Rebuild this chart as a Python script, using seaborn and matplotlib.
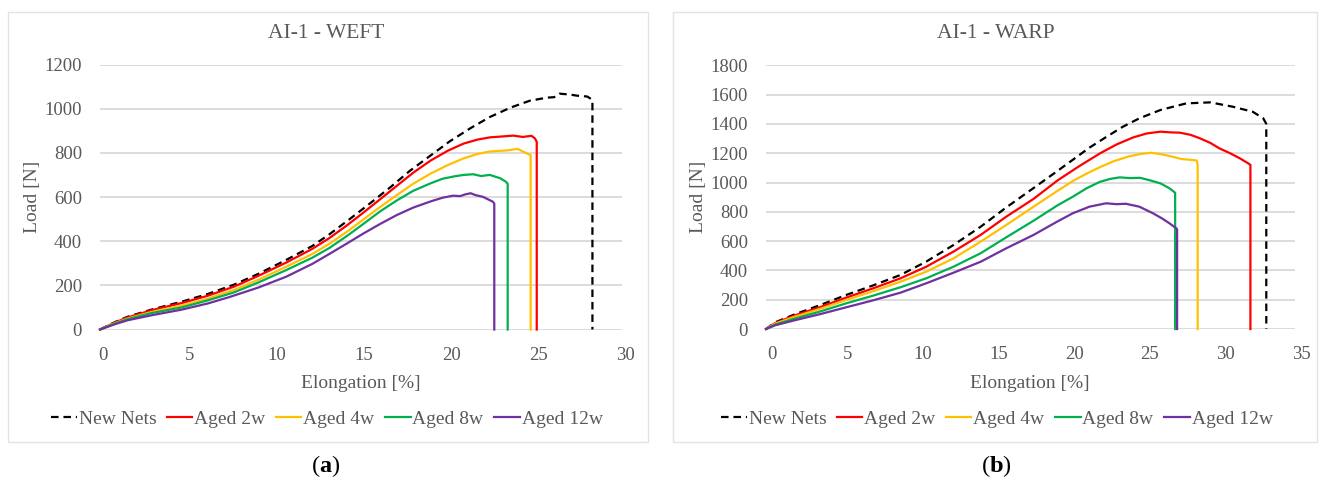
import matplotlib
matplotlib.use("Agg")
import matplotlib.pyplot as plt
from matplotlib.lines import Line2D
from matplotlib.patches import Rectangle
from matplotlib.transforms import ScaledTranslation
import pandas as pd
import seaborn as sns

# ---- tensile test curves: AI-1 net, weft direction ----
weft_new_x = [0, 0.9, 1.6, 3.0, 4.7, 6.2, 7.7, 9.1, 10.7, 12.2, 13.2, 14.4, 15.5, 16.7, 17.8, 19.0, 20.1,
              21.3, 22.4, 23.6, 24.7, 25.7, 26.1, 26.4, 27.0, 27.4, 28.0, 28.3, 28.3]
weft_new_y = [0, 35, 58, 91, 126, 161, 203, 252, 315, 378, 432, 503, 570, 645, 718, 788, 852,
              912, 962, 1005, 1036, 1050, 1052, 1068, 1064, 1059, 1055, 1040, 0]

weft_2w_x = [0, 0.9, 1.6, 3.0, 4.7, 6.2, 7.7, 9.1, 10.7, 12.2, 13.2, 14.2, 15.1, 16.1, 17.05, 18.0,
             19.0, 20.0, 20.9, 21.7, 22.4, 23.1, 23.75, 24.3, 24.8, 25.0, 25.1, 25.1]
weft_2w_y = [0, 33, 55, 88, 120, 153, 194, 243, 303, 365, 415, 472, 527, 590, 650, 710,
             765, 810, 842, 860, 870, 874, 878, 872, 877, 865, 850, 0]

weft_4w_x = [0, 0.9, 1.6, 3.0, 4.7, 6.2, 7.7, 9.1, 10.7, 12.2, 13.2, 14.2, 15.1, 16.1, 17.05, 18.0,
             19.0, 20.0, 20.9, 21.7, 22.4, 23.4, 24.0, 24.3, 24.6, 24.75, 24.75]
weft_4w_y = [0, 30, 50, 80, 108, 140, 179, 225, 284, 342, 389, 443, 496, 555, 608, 660,
             706, 745, 775, 795, 806, 811, 818, 806, 795, 790, 0]

weft_8w_x = [0, 0.9, 1.6, 3.0, 4.7, 6.2, 7.7, 9.1, 10.7, 12.2, 13.2, 14.2, 15.1, 16.1, 17.05, 18.0,
             19.0, 19.7, 20.4, 20.9, 21.45, 21.9, 22.4, 23.0, 23.33, 23.43, 23.43]
weft_8w_y = [0, 28, 47, 75, 100, 132, 168, 213, 269, 325, 370, 424, 476, 535, 584, 628,
             662, 683, 694, 700, 703, 695, 700, 685, 669, 660, 0]

weft_12w_x = [0, 0.9, 1.6, 3.0, 4.7, 6.2, 7.4, 9.1, 10.7, 12.2, 13.2, 14.2, 15.1, 16.1, 17.05, 18.0,
              19.0, 19.7, 20.3, 20.7, 21.0, 21.3, 21.6, 22.0, 22.57, 22.66, 22.66]
weft_12w_y = [0, 25, 42, 65, 90, 118, 146, 190, 239, 297, 343, 390, 433, 478, 518, 552,
              580, 597, 606, 604, 612, 617, 608, 601, 579, 570, 0]

# ---- tensile test curves: AI-1 net, warp direction ----
warp_new_x = [0, 0.6, 1.8, 3.6, 5.3, 7.1, 8.9, 10.6, 12.4, 14.2, 15.9, 17.7, 19.3, 20.3, 21.4, 22.5,
              23.6, 24.7, 26.1, 27.8, 29.4, 30.9, 32.2, 32.9, 33.1, 33.1]
warp_new_y = [0, 45, 96, 164, 232, 298, 369, 460, 573, 698, 830, 962, 1080, 1155, 1238, 1310,
              1380, 1438, 1495, 1540, 1547, 1517, 1483, 1438, 1400, 0]

warp_2w_x = [0, 0.6, 1.8, 3.6, 5.3, 7.1, 8.9, 10.6, 12.4, 14.2, 15.9, 17.7, 19.3, 20.7, 22.1, 23.2,
             24.3, 25.2, 26.1, 26.8, 27.4, 28.1, 28.7, 29.4, 30.0, 30.7, 31.35, 31.9, 32.05, 32.05]
warp_2w_y = [0, 40, 89, 150, 214, 278, 346, 425, 528, 642, 767, 888, 1015, 1110, 1199, 1260,
             1308, 1335, 1347, 1342, 1340, 1325, 1302, 1270, 1233, 1200, 1165, 1131, 1120, 0]

warp_4w_x = [0, 0.6, 1.8, 3.6, 5.3, 7.1, 8.9, 10.6, 12.4, 14.2, 15.9, 17.7, 19.3, 20.3, 21.2, 22.1,
             23.0, 24.0, 24.8, 25.5, 26.2, 26.9, 27.5, 28.0, 28.5, 28.56, 28.56]
warp_4w_y = [0, 36, 80, 138, 198, 258, 323, 391, 482, 596, 710, 835, 944, 1010, 1060, 1105,
             1145, 1178, 1195, 1203, 1192, 1176, 1160, 1156, 1150, 1120, 0]

warp_8w_x = [0, 0.6, 1.8, 3.6, 5.3, 7.1, 8.9, 10.6, 12.4, 14.2, 15.9, 17.7, 19.3, 20.3, 21.2, 22.1,
             22.8, 23.4, 24.1, 24.75, 25.4, 26.1, 26.7, 26.9, 27.07, 27.07]
warp_8w_y = [0, 30, 68, 120, 175, 228, 285, 346, 425, 517, 626, 739, 845, 903, 960, 1005,
             1025, 1035, 1030, 1032, 1015, 994, 960, 944, 930, 0]

warp_12w_x = [0, 0.6, 1.8, 3.6, 5.3, 7.1, 8.9, 10.6, 12.4, 14.2, 15.9, 17.7, 19.3, 20.3, 21.4, 22.5,
              23.2, 23.8, 24.7, 25.6, 26.2, 26.7, 27.15, 27.2, 27.2]
warp_12w_y = [0, 25, 57, 102, 148, 196, 248, 312, 384, 459, 551, 642, 735, 790, 835, 858,
              852, 855, 835, 790, 755, 721, 687, 680, 0]

samples = ["New Nets", "Aged 2w", "Aged 4w", "Aged 8w", "Aged 12w"]
colors = ["#000000", "#FF0000", "#FFC000", "#00B050", "#7030A0"]

weft_x_ticks = [0, 5, 10, 15, 20, 25, 30]
weft_y_ticks = [0, 200, 400, 600, 800, 1000, 1200]
warp_x_ticks = [0, 5, 10, 15, 20, 25, 30, 35]
warp_y_ticks = [0, 200, 400, 600, 800, 1000, 1200, 1400, 1600, 1800]


def long_frame(series):
    rows = []
    for name, (xs, ys) in zip(samples, series):
        for x, y in zip(xs, ys):
            rows.append({"Sample": name, "Elongation": x, "Load": y})
    return pd.DataFrame(rows)


weft_df = long_frame([(weft_new_x, weft_new_y), (weft_2w_x, weft_2w_y), (weft_4w_x, weft_4w_y),
                      (weft_8w_x, weft_8w_y), (weft_12w_x, weft_12w_y)])
warp_df = long_frame([(warp_new_x, warp_new_y), (warp_2w_x, warp_2w_y), (warp_4w_x, warp_4w_y),
                      (warp_8w_x, warp_8w_y), (warp_12w_x, warp_12w_y)])

plt.rcParams["font.family"] = ["Liberation Serif", "DejaVu Serif"]
plt.rcParams["mathtext.fontset"] = "custom"
plt.rcParams["mathtext.rm"] = "Liberation Serif"
plt.rcParams["mathtext.bf"] = "Liberation Serif:bold"

TXT = "#595959"
GRID = "#D9D9D9"
W, H = 1322, 479

fig = plt.figure(figsize=(W / 100, H / 100), dpi=100)
fig.patch.set_facecolor("white")


def fx(px):
    return px / W


def fy(py):
    return 1 - py / H


palette = dict(zip(samples, colors))
dash_map = {s: "" for s in samples}
dash_map["New Nets"] = (3.4, 2.2)


def draw_panel(rect, df, xlim, xticks, ylim, yticks, label_shift):
    ax = fig.add_axes(rect)
    sns.lineplot(data=df, x="Elongation", y="Load", hue="Sample", style="Sample",
                 hue_order=samples, style_order=samples, palette=palette, dashes=dash_map,
                 sort=False, estimator=None, units="Sample", linewidth=1.6,
                 legend=False, ax=ax, zorder=3)
    for ln in ax.lines:
        ln.set_clip_on(False)
        ln.set_solid_joinstyle("round")
    ax.set_xlim(*xlim)
    ax.set_ylim(*ylim)
    ax.set_xticks(xticks)
    ax.set_yticks(yticks)
    ax.set_xlabel("")
    ax.set_ylabel("")
    ax.grid(axis="y", color=GRID, linewidth=1.3, zorder=0)
    ax.grid(axis="x", visible=False)
    ax.set_axisbelow(True)
    for sp in ax.spines.values():
        sp.set_visible(False)
    ax.tick_params(axis="both", length=0, labelsize=13.5, labelcolor=TXT)
    ax.tick_params(axis="x", pad=12.5)
    ax.tick_params(axis="y", pad=13)
    shift = ScaledTranslation(label_shift / 100, 0, fig.dpi_scale_trans)
    for lab in ax.get_xticklabels():
        lab.set_transform(lab.get_transform() + shift)
    ax.set_facecolor("none")
    return ax


ax1 = draw_panel([fx(100), fy(329.5), 522 / W, 265 / H], weft_df, (0, 30), weft_x_ticks,
                 (0, 1200), weft_y_ticks, 3)
ax2 = draw_panel([fx(766), fy(329), 529 / W, 263.7 / H], warp_df, (0, 35), warp_x_ticks,
                 (0, 1800), warp_y_ticks, 6)

# chart-area frames
for x0, x1 in [(8, 648), (673, 1317)]:
    fig.add_artist(Rectangle((fx(x0), fy(442)), (x1 - x0) / W, 430 / H, transform=fig.transFigure,
                             fill=False, edgecolor="#E3E3E3", linewidth=1.0))

handles = []
for s, c in zip(samples, colors):
    h = Line2D([], [], color=c, linewidth=1.6)
    if dash_map[s]:
        h.set_dashes(dash_map[s])
    handles.append(h)

panels = [
    (ax1, "AI-1 - WEFT", 326, 361, 32, "a"),
    (ax2, "AI-1 - WARP", 996, 1030, 698, "b"),
]
for ax, title, cx, axc, ylx, tag in panels:
    fig.text(fx(cx), fy(33), title, ha="center", va="center", fontsize=15.5, color=TXT)
    fig.text(fx(axc), fy(383), "Elongation [%]", ha="center", va="center", fontsize=14, color=TXT)
    fig.text(fx(ylx), fy(197), "Load [N]", ha="center", va="center", rotation=90, fontsize=14,
             color=TXT)
    leg = fig.legend(handles, samples, loc="center", bbox_to_anchor=(fx(cx + 1), fy(419)),
                     bbox_transform=fig.transFigure, ncol=5, frameon=False, fontsize=14,
                     handlelength=1.3, handletextpad=0.1, columnspacing=0.55, borderpad=0)
    for t in leg.get_texts():
        t.set_color(TXT)
    fig.text(fx(cx), fy(466), r"($\mathbf{" + tag + r"}$)", ha="center", va="center",
             fontsize=17.5, color="black")

fig.savefig("out.png", dpi=100, facecolor="white")
